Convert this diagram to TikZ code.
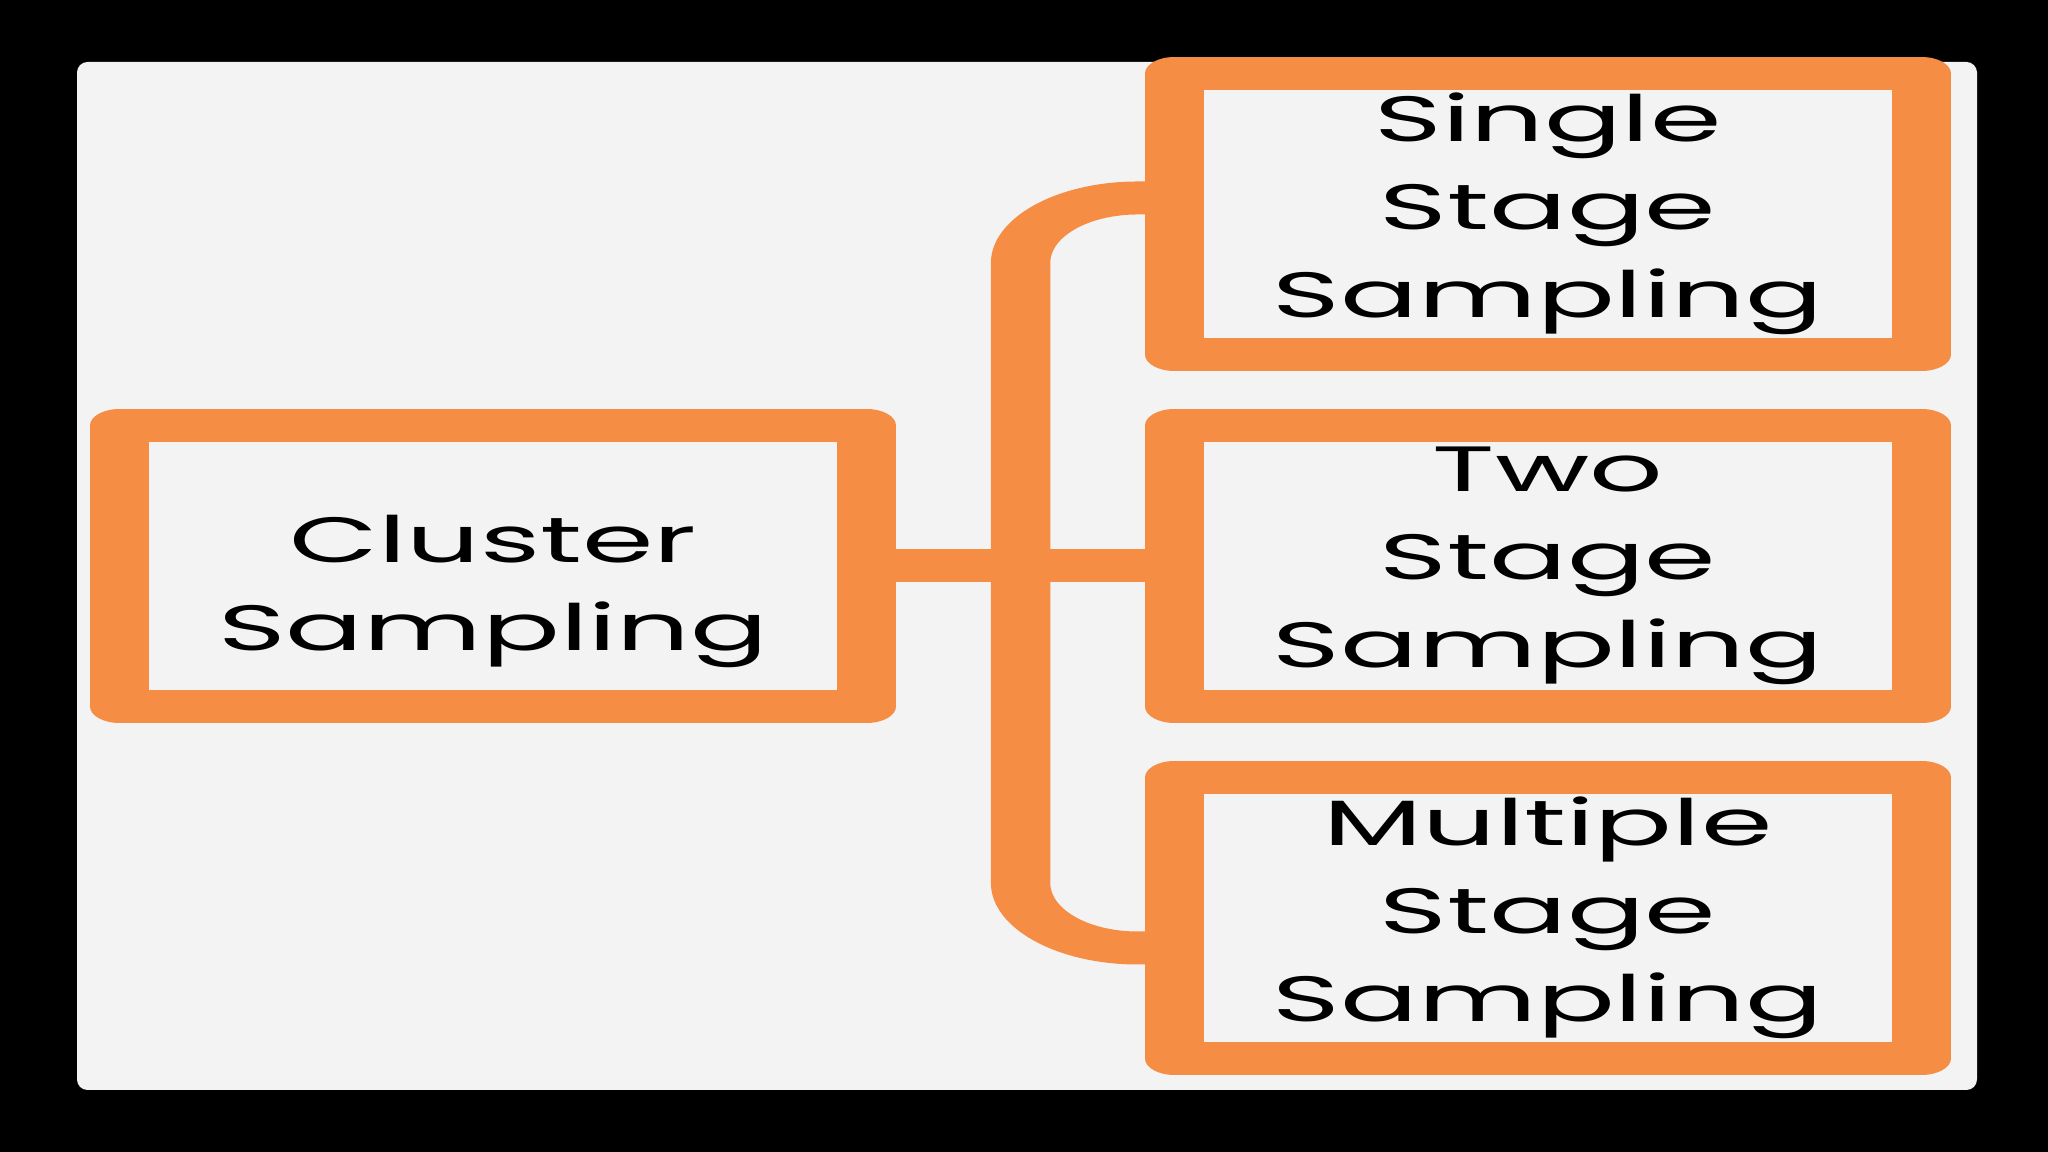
\documentclass[tikz,border=0pt]{standalone}
\usepackage{fontspec}
\setmainfont{Poppins}
\usetikzlibrary{positioning,calc}
\definecolor{boxorange}{RGB}{246,141,69}
\definecolor{panelgray}{RGB}{243,243,243}
\tikzset{
    on grid,
    node distance=3.52cm,
    box/.style = {
        draw=boxorange,
        fill=panelgray,
        shape=rectangle,
        minimum width=4.15cm,
        minimum height=2.81cm,
        inner sep=0pt,
        line width=0.33cm,
        line join=round,
        align=center,
        font=\fontsize{18.2}{25}\selectfont
    },
    link/.style = {
        draw=boxorange,
        line width=0.33cm,
        rounded corners=0.65cm
    },
}

\begin{document}
\begin{tikzpicture}
    \useasboundingbox (0,0) rectangle (20.48,11.52);
    \fill[black] (0,0) rectangle (20.48,11.52);
    \fill[panelgray, rounded corners=3pt] (0.77,0.62) rectangle (19.77,10.90);
    \begin{scope}[transform canvas={xscale=1.8}]
        \node[box] (cluster) at (2.74,5.86) {\rule{0pt}{0.98cm}Cluster\\Sampling};
        \node[box, right of=cluster, node distance=5.86cm] (two) {Two\\Stage\\Sampling};
        \node[box, above of=two] (single) {Single\\Stage\\Sampling};
        \node[box, below of=two] (multiple) {Multiple\\Stage\\Sampling};
        \coordinate (hub) at ($(cluster.east)!0.5!(two.west)$);

        \path[link] (cluster.east) -- (two.west);
        \path[link] ([yshift=1.6mm]single.west) -| (hub) |- ([yshift=-3mm]multiple.west);
    \end{scope}
\end{tikzpicture}
\end{document}
